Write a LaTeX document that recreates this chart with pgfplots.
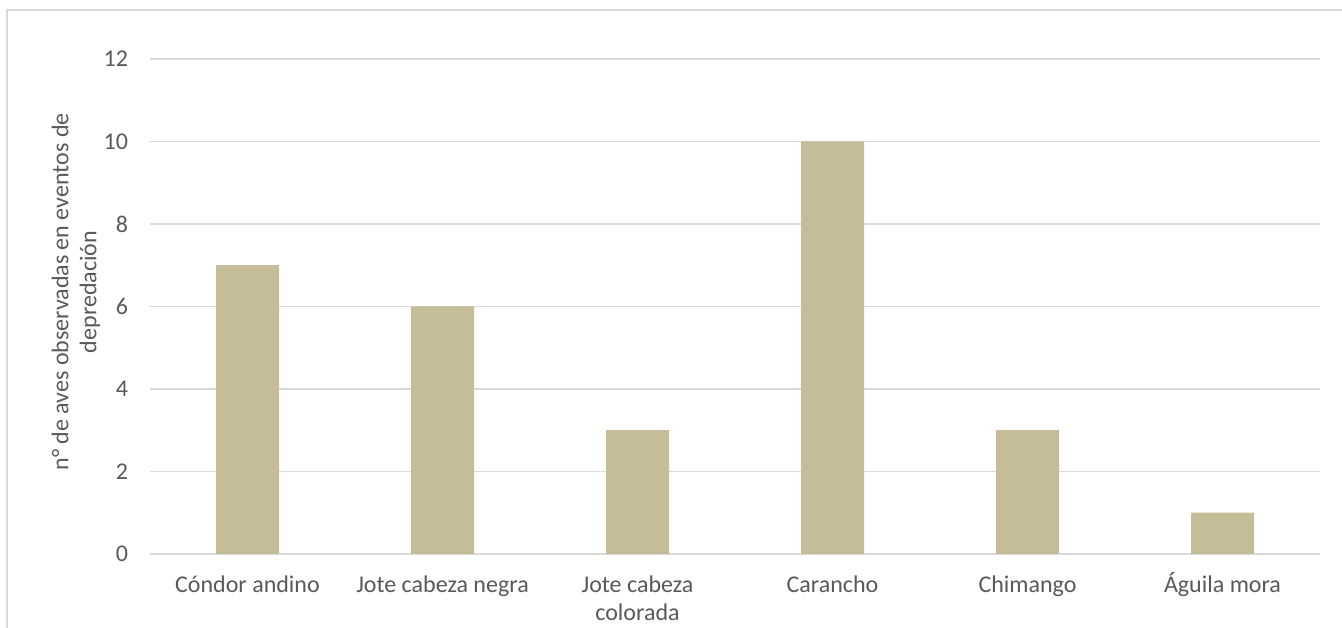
\documentclass[border=0pt]{standalone}
\usepackage{pgfplots}
\pgfplotsset{compat=1.18}
\usepackage{fontspec}
\setmainfont{Carlito}
\definecolor{barc}{HTML}{C4BD97}
\definecolor{gridc}{HTML}{D9D9D9}
\definecolor{txt}{HTML}{595959}
\begin{document}
\begin{tikzpicture}[x=0.75pt,y=0.75pt]
\useasboundingbox (0,0) rectangle (1342,628);
\draw[gridc, line width=1.5pt] (7,-20) -- (7,618) -- (1360,618);
\begin{axis}[
  at={(112.5pt,55.5pt)}, anchor=south west,
  scale only axis, width=877.5pt, height=371.25pt,
  xmin=-0.5, xmax=5.5, ymin=0, ymax=12,
  ytick={0,2,4,6,8,10,12},
  xtick=data,
  xticklabels={C\'ondor andino, Jote cabeza negra, {Jote cabeza\\colorada}, Carancho, Chimango, {\smash{\'A}guila mora}},
  ymajorgrids, grid style={gridc, line width=1pt},
  axis line style={draw=none},
  major tick length=0pt,
  /pgf/number format/assume math mode=true,
  tick label style={font=\fontsize{18}{21}\selectfont, text=txt},
  xticklabel style={align=center, yshift=-13pt},
  yticklabel style={xshift=-13pt},
  ybar, bar width=47.25pt,
]
\addplot[fill=barc, draw=none] coordinates {(0,7) (1,6) (2,3) (3,10) (4,3) (5,1)};
\end{axis}
\node[rotate=90, align=center, text=txt, font=\fontsize{18}{21}\selectfont] at (76,336) {n° de aves observadas en eventos de\\depredación};
\end{tikzpicture}
\end{document}
